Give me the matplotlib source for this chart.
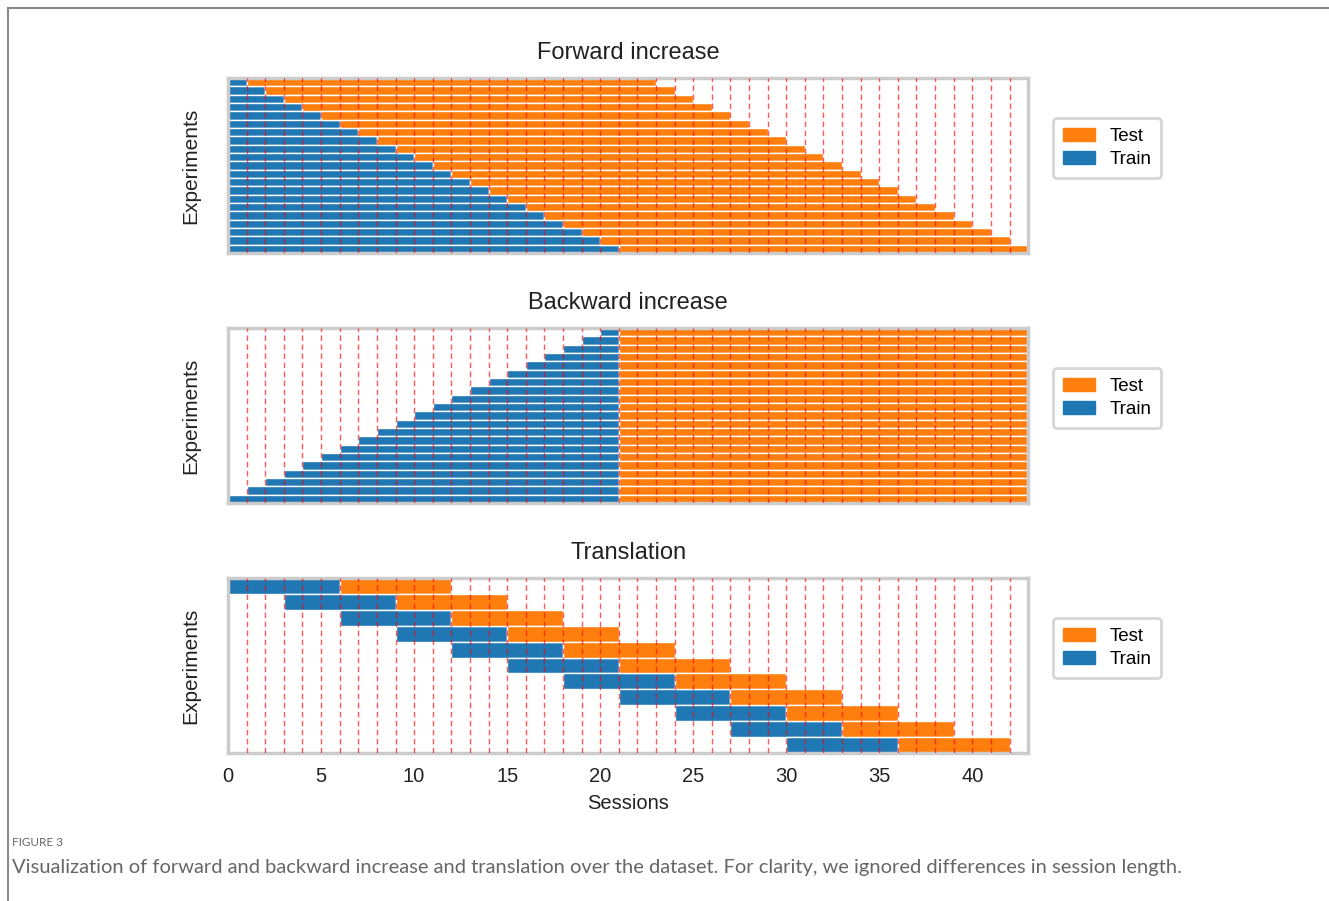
import matplotlib.pyplot as plt
from matplotlib.patches import Patch
from matplotlib.lines import Line2D

plt.rcParams['font.family'] = ['Liberation Sans', 'DejaVu Sans']

# Forward increase: train [0, end], test [end, test_end]
fwd_train_end = [1, 2, 3, 4, 5, 6, 7, 8, 9, 10, 11, 12, 13, 14, 15, 16, 17, 18, 19, 20, 21]
fwd_test_end = [23, 24, 25, 26, 27, 28, 29, 30, 31, 32, 33, 34, 35, 36, 37, 38, 39, 40, 41, 42, 43]

# Backward increase: train [start, 21], test [21, 43]
bwd_train_start = [20, 19, 18, 17, 16, 15, 14, 13, 12, 11, 10, 9, 8, 7, 6, 5, 4, 3, 2, 1, 0]
bwd_train_end = [21] * 21
bwd_test_end = [43] * 21

# Translation
tr_train_start = [0, 3, 6, 9, 12, 15, 18, 21, 24, 27, 30]
tr_train_end = [6, 9, 12, 15, 18, 21, 24, 27, 30, 33, 36]
tr_test_end = [12, 15, 18, 21, 24, 27, 30, 33, 36, 39, 42]

titles = ['Forward increase', 'Backward increase', 'Translation']
sessions = list(range(1, 43))
xticks = [0, 5, 10, 15, 20, 25, 30, 35, 40]

blue = '#1f77b4'
orange = '#ff7f0e'

fig = plt.figure(figsize=(13.29, 9.01), dpi=100)

# page border lines
fig.add_artist(Line2D([8 / 1329, 8 / 1329], [0, 1 - 8 / 901], transform=fig.transFigure,
                      color='#8a8a8a', lw=1.5))
fig.add_artist(Line2D([8 / 1329, 1], [1 - 8 / 901, 1 - 8 / 901], transform=fig.transFigure,
                      color='#8a8a8a', lw=1.5))

bottoms = [0.7192, 0.4417, 0.1643]
panels = [
    ([0] * 21, fwd_train_end, fwd_test_end),
    (bwd_train_start, bwd_train_end, bwd_test_end),
    (tr_train_start, tr_train_end, tr_test_end),
]

for ax_i, (start, tr_end, te_end) in enumerate(panels):
    ax = fig.add_axes([0.1716, bottoms[ax_i], 0.602, 0.1942])
    n = len(start)
    rows = list(range(n))
    ax.barh(rows, [e - s for s, e in zip(start, tr_end)], left=start, height=1,
            color=blue, edgecolor='white', linewidth=1, label='Train')
    ax.barh(rows, [t - e for e, t in zip(tr_end, te_end)], left=tr_end, height=1,
            color=orange, edgecolor='white', linewidth=1, label='Test')
    for s in sessions:
        ax.axvline(s, color='red', ls=(0, (4, 2.5)), lw=1, alpha=0.65, zorder=3)
    ax.set_xlim(0, 43)
    ax.set_ylim(n - 0.5, -0.5)
    ax.set_yticks([])
    ax.set_ylabel('Experiments', fontsize=15, color='#222222', labelpad=20)
    ax.set_title(titles[ax_i], fontsize=17, color='#222222', pad=14)
    for sp in ax.spines.values():
        sp.set_color('#cccccc')
        sp.set_linewidth(2.5)
    ax.tick_params(length=0)
    if ax_i == 2:
        ax.set_xticks(xticks)
        ax.tick_params(axis='x', labelsize=14.5, labelcolor='#222222', pad=10)
        ax.set_xlabel('Sessions', fontsize=14.5, color='#222222', labelpad=6)
    else:
        ax.set_xticks([])
    handles = [Patch(color=orange, label='Test'), Patch(color=blue, label='Train')]
    leg = ax.legend(handles=handles, loc='center left', bbox_to_anchor=(1.02, 0.6),
                    fontsize=13.5, frameon=True, fancybox=True, borderpad=0.5,
                    handlelength=1.7, handletextpad=0.8, labelspacing=0.35)
    leg.get_frame().set_edgecolor('#cccccc')
    leg.get_frame().set_linewidth(2)

fig.text(12 / 1329, 1 - 842 / 901, 'FIGURE 3', fontsize=8.5, color='#666666',
         family=['Lato', 'DejaVu Sans'], va='center')
fig.text(12 / 1329, 1 - 868 / 901,
         'Visualization of forward and backward increase and translation over the dataset. '
         'For clarity, we ignored differences in session length.',
         fontsize=14.5, color='#666666', family=['Lato', 'DejaVu Sans'], va='center')

fig.savefig('out.png', dpi=100)
